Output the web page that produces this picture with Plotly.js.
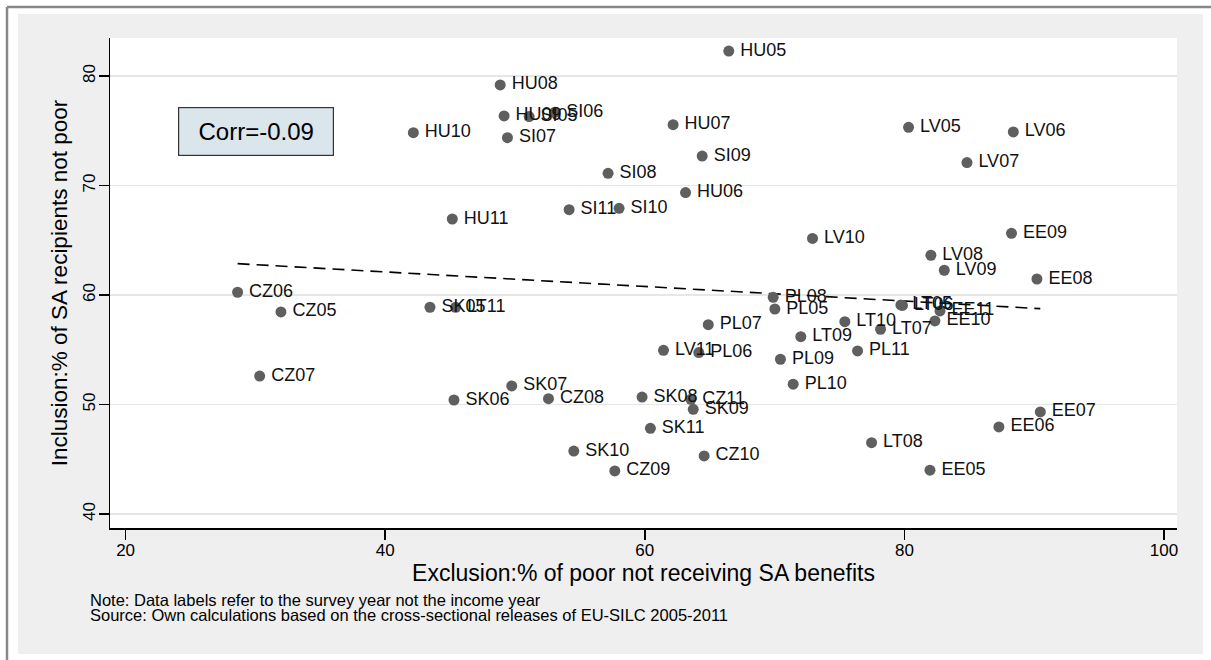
<!DOCTYPE html>
<html>
<head>
<meta charset="utf-8">
<script src="https://cdn.plot.ly/plotly-3.0.1.min.js"></script>
<style>
  html, body { margin: 0; padding: 0; background: #ffffff; }
  #chart { width: 1211px; height: 660px; }
</style>
</head>
<body>
<div id="chart"></div>
<script>
// Country-year labels (survey year)
const labels = [
  "HU05","HU06","HU07","HU08","HU09","HU10","HU11",
  "SI05","SI06","SI07","SI08","SI09","SI10","SI11",
  "LV05","LV06","LV07","LV08","LV09","LV10","LV11",
  "EE05","EE06","EE07","EE08","EE09","EE10","EE11",
  "LT05","LT06","LT07","LT08","LT09","LT10","LT11",
  "PL05","PL06","PL07","PL08","PL09","PL10","PL11",
  "CZ05","CZ06","CZ07","CZ08","CZ09","CZ10","CZ11",
  "SK05","SK06","SK07","SK08","SK09","SK10","SK11"
];
// Exclusion: % of poor not receiving SA benefits
const exclusion = [
  66.47, 63.14, 62.18, 48.86, 49.16, 42.17, 45.17,
  51.09, 53.06, 49.42, 57.17, 64.42, 58.02, 54.17,
  80.32, 88.39, 84.82, 82.04, 83.07, 72.92, 61.44,
  81.97, 87.28, 90.47, 90.21, 88.25, 82.35, 82.74,
  79.73, 79.85, 78.16, 77.47, 72.02, 75.41, 45.43,
  70.02, 64.16, 64.89, 69.89, 70.45, 71.43, 76.39,
  31.97, 28.63, 30.33, 52.58, 57.69, 64.57, 63.55,
  43.45, 45.30, 49.75, 59.79, 63.73, 54.53, 60.43
];
// Inclusion: % of SA recipients not poor
const inclusion = [
  82.28, 69.35, 75.55, 79.18, 76.35, 74.82, 66.94,
  76.29, 76.68, 74.37, 71.11, 72.69, 67.92, 67.79,
  75.31, 74.89, 72.09, 63.63, 62.26, 65.17, 54.95,
  44.00, 47.95, 49.32, 61.46, 65.63, 57.63, 58.54,
  59.09, 59.05, 56.87, 46.51, 56.19, 57.56, 58.88,
  58.72, 54.74, 57.29, 59.79, 54.13, 51.85, 54.89,
  58.45, 60.25, 52.60, 50.53, 43.93, 45.30, 50.47,
  58.88, 50.41, 51.69, 50.68, 49.56, 45.75, 47.82
];
const xTicks = [20, 40, 60, 80, 100];
const yTicks = [40, 50, 60, 70, 80];
const corrText = "Corr=-0.09";
const xTitle = "Exclusion:% of poor not receiving SA benefits";
const yTitle = "Inclusion:% of SA recipients not poor";
const noteLines = [
  "Note: Data labels refer to the survey year not the income year",
  "Source: Own calculations based on the cross-sectional releases of EU-SILC 2005-2011"
];

// OLS fitted line computed from the data
const n = exclusion.length;
const mx = exclusion.reduce((a, b) => a + b, 0) / n;
const my = inclusion.reduce((a, b) => a + b, 0) / n;
let sxy = 0, sxx = 0;
for (let i = 0; i < n; i++) { sxy += (exclusion[i] - mx) * (inclusion[i] - my); sxx += (exclusion[i] - mx) ** 2; }
const slope = sxy / sxx, intercept = my - slope * mx;
const xmin = Math.min(...exclusion), xmax = Math.max(...exclusion);
const fitX = [xmin, xmax];
const fitY = fitX.map(v => intercept + slope * v);

const FONT = "Liberation Sans, Arial, Helvetica, sans-serif";

const traces = [
  {
    x: fitX, y: fitY, type: "scatter", mode: "lines",
    line: { color: "#000000", width: 1.6, dash: "12px,7px" },
    hoverinfo: "skip", showlegend: false
  },
  {
    x: exclusion, y: inclusion, text: labels, type: "scatter", mode: "markers+text",
    texttemplate: "\u2009%{text}",
    textposition: "middle right",
    textfont: { family: FONT, size: 18, color: "#111111" },
    marker: { size: 11, color: "#5f5f5f" },
    cliponaxis: false, showlegend: false
  }
];

// plot area geometry (pixels) used only for frame placement
const W = 1211, H = 660, L = 110, R = 1177, T = 38, B = 528;
const px = v => (v - L) / (R - L);
const py = v => (B - v) / (B - T);

const layout = {
  width: W, height: H,
  margin: { l: L, r: W - R, t: T, b: H - B, pad: 0 },
  paper_bgcolor: "#ffffff",
  plot_bgcolor: "#ffffff",
  font: { family: FONT, color: "#000000" },
  showlegend: false,
  xaxis: {
    range: [18.8, 101.0], tickvals: xTicks, ticktext: xTicks.map(String),
    showgrid: false, zeroline: false,
    showline: true, linecolor: "#000000", linewidth: 1.5,
    ticks: "outside", ticklen: 10, tickwidth: 1.5, tickcolor: "#000000",
    ticklabelstandoff: -4,
    tickfont: { size: 17, family: FONT, color: "#000000" },
    title: { text: xTitle, font: { size: 23, family: FONT, color: "#000000" }, standoff: 2 },
    automargin: false
  },
  yaxis: {
    range: [38.72, 83.47], tickvals: yTicks, ticktext: yTicks.map(String),
    tickangle: -90,
    ticklabelstandoff: -3,
    showgrid: true, gridcolor: "#e6e6e6", gridwidth: 1.6, zeroline: false,
    showline: true, linecolor: "#000000", linewidth: 1.5,
    ticks: "outside", ticklen: 10, tickwidth: 1.5, tickcolor: "#000000",
    tickfont: { size: 17, family: FONT, color: "#000000" },
    title: { text: yTitle, font: { size: 22.5, family: FONT, color: "#000000" }, standoff: 6 },
    automargin: false
  },
  shapes: [
    { type: "rect", xref: "paper", yref: "paper", layer: "below",
      x0: px(18), x1: px(1203), y0: py(654), y1: py(14),
      fillcolor: "#efefef", line: { width: 0 } },
    { type: "rect", xref: "paper", yref: "paper", layer: "below",
      x0: 0, x1: 1, y0: 0, y1: 1, fillcolor: "#ffffff", line: { width: 0 } },
    { type: "line", xref: "paper", yref: "paper",
      x0: px(7), x1: px(1211), y0: py(7), y1: py(7),
      line: { color: "#888888", width: 2.5 } },
    { type: "line", xref: "paper", yref: "paper",
      x0: px(7), x1: px(7), y0: py(660), y1: py(7),
      line: { color: "#888888", width: 2.5 } }
  ],
  annotations: [
    { xref: "paper", yref: "paper", x: px(256), y: py(131),
      xanchor: "center", yanchor: "middle", showarrow: false,
      text: corrText, font: { size: 24, family: FONT, color: "#000000" },
      bgcolor: "#dae5ec", bordercolor: "#333333", borderwidth: 1.2,
      width: 152, height: 45, align: "center" },
    { xref: "paper", yref: "paper", x: px(88), y: py(600),
      xanchor: "left", yanchor: "middle", showarrow: false, align: "left",
      text: noteLines[0], font: { size: 16.5, family: FONT, color: "#000000" } },
    { xref: "paper", yref: "paper", x: px(88), y: py(615),
      xanchor: "left", yanchor: "middle", showarrow: false, align: "left",
      text: noteLines[1], font: { size: 16.5, family: FONT, color: "#000000" } }
  ]
};

Plotly.newPlot("chart", traces, layout, { displayModeBar: false, staticPlot: true });
</script>
</body>
</html>
